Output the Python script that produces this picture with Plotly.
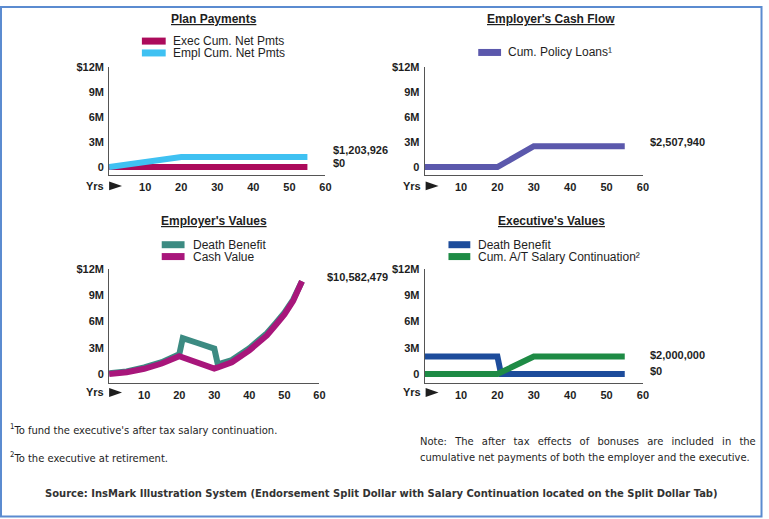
import plotly.graph_objects as go

W, H = 769, 519

# ---------------- data (values in $ millions) ----------------
plan_years_exec = [0, 55]
exec_cum_net_pmts = [0.0, 0.0]
plan_years_empl = [0, 20, 55]
empl_cum_net_pmts = [0.0, 1.203926, 1.203926]

loan_years = [0, 20, 30, 55]
cum_policy_loans = [0.0, 0.0, 2.50794, 2.50794]

emp_val_years = [0, 5, 10, 15, 20, 21, 25, 30, 31, 35, 40, 45, 47.5, 50, 52.5, 55]
emp_death_benefit = [0.1, 0.3, 0.75, 1.35, 2.25, 4.1, 3.57, 2.9, 1.1, 1.6, 2.95, 4.65, 5.8, 7.0, 8.5, 10.582479]
emp_cash_value = [0.0, 0.2, 0.6, 1.2, 2.04, 1.9, 1.33, 0.63, 0.75, 1.35, 2.7, 4.4, 5.6, 6.8, 8.35, 10.582479]

exec_db_years = [0, 20, 21, 55]
exec_death_benefit = [2.0, 2.0, 0.0, 0.0]
salary_years = [0, 20, 30, 55]
cum_at_salary_cont = [0.0, 0.0, 2.0, 2.0]

x_tick_vals = [10, 20, 30, 40, 50, 60]
x_tick_text = ["10", "20", "30", "40", "50", "60"]
y_tick_vals = [0, 3, 6, 9, 12]
y_tick_text = ["0", "3M", "6M", "9M", "$12M"]

panel_titles = ["Plan Payments", "Employer's Cash Flow", "Employer's Values", "Executive's Values"]
end_labels = [
    ["$1,203,926", "$0"],
    ["$2,507,940"],
    ["$10,582,479"],
    ["$2,000,000", "$0"],
]

# ---------------- colours ----------------
C_EXEC = "#AC0B5B"
C_EMPL = "#3FC1F2"
C_LOAN = "#5B58AC"
C_DB_EMP = "#3C8B82"
C_CV = "#A8167B"
C_DB_EXE = "#1D4C9B"
C_SAL = "#1E8B45"
TXT = "#1E1E1E"
FONT = "Liberation Sans, Arial, sans-serif"
COND = "DejaVu Sans Condensed, Liberation Sans, sans-serif"


def px(x):
    return x / W


def py(y):
    return 1 - y / H


fig = go.Figure()
LW = 6

fig.add_trace(go.Scatter(x=plan_years_exec, y=exec_cum_net_pmts, mode="lines",
                         line=dict(color=C_EXEC, width=LW), xaxis="x", yaxis="y"))
fig.add_trace(go.Scatter(x=plan_years_empl, y=empl_cum_net_pmts, mode="lines",
                         line=dict(color=C_EMPL, width=LW), xaxis="x", yaxis="y"))
fig.add_trace(go.Scatter(x=loan_years, y=cum_policy_loans, mode="lines",
                         line=dict(color=C_LOAN, width=LW), xaxis="x2", yaxis="y2"))
fig.add_trace(go.Scatter(x=emp_val_years, y=emp_death_benefit, mode="lines",
                         line=dict(color=C_DB_EMP, width=LW), xaxis="x3", yaxis="y3"))
fig.add_trace(go.Scatter(x=emp_val_years, y=emp_cash_value, mode="lines",
                         line=dict(color=C_CV, width=LW), xaxis="x3", yaxis="y3"))
fig.add_trace(go.Scatter(x=exec_db_years, y=exec_death_benefit, mode="lines",
                         line=dict(color=C_DB_EXE, width=LW), xaxis="x4", yaxis="y4"))
fig.add_trace(go.Scatter(x=salary_years, y=cum_at_salary_cont, mode="lines",
                         line=dict(color=C_SAL, width=LW), xaxis="x4", yaxis="y4"))

# panel geometry (pixels): x0, x60, ybottom, ytop, ymin
panels = [
    (110, 328, 171, 62, -0.95),
    (428, 648, 171, 62, -0.95),
    (110, 322, 381, 266, -0.98),
    (428, 648, 381, 266, -0.98),
]

axfont = dict(family=FONT, size=11, color=TXT, weight="bold")
layout_axes = {}
for i, (xa, xb, yb, yt, ymin) in enumerate(panels):
    sfx = "" if i == 0 else str(i + 1)
    layout_axes["xaxis" + sfx] = dict(
        domain=[px(xa), px(xb)], range=[0, 60], anchor="y" + sfx,
        tickvals=x_tick_vals, ticktext=x_tick_text, tickfont=axfont,
        showline=True, linecolor="#555", linewidth=1, ticks="",
        showgrid=False, zeroline=False, fixedrange=True, ticklabelstandoff=2)
    layout_axes["yaxis" + sfx] = dict(
        domain=[py(yb), py(yt)], range=[ymin, 12], anchor="x" + sfx,
        tickvals=y_tick_vals, ticktext=y_tick_text, tickfont=axfont,
        showline=True, linecolor="#555", linewidth=1, ticks="",
        showgrid=False, zeroline=False, fixedrange=True, ticklabelstandoff=2)

annotations = []
shapes = []


def text(x, y, s, size=12, bold=False, anchor="left", color=TXT, family=FONT):
    annotations.append(dict(x=px(x), y=py(y), xref="paper", yref="paper", text=s,
                            showarrow=False, xanchor=anchor, yanchor="middle",
                            font=dict(family=family, size=size, color=color,
                                      weight="bold" if bold else "normal")))


# titles
title_pos = [(216, 13), (555, 13), (216, 218), (556, 218)]
for (x, y), t in zip(title_pos, panel_titles):
    text(x, y, "<u>" + t + "</u>", size=12, bold=True, anchor="center")

# legends (drawn manually: line sample + label)
legends = [
    (143, 167, 172, [(35.5, C_EXEC, "Exec Cum. Net Pmts"), (47.5, C_EMPL, "Empl Cum. Net Pmts")]),
    (482, 505, 510, [(47, C_LOAN, "Cum. Policy Loans¹")]),
    (163, 186, 192, [(241.5, C_DB_EMP, "Death Benefit"), (253.5, C_CV, "Cash Value")]),
    (452, 474, 480, [(241.5, C_DB_EXE, "Death Benefit"), (253.5, C_SAL, "Cum. A/T Salary Continuation²")]),
]
for xs0, xs1, xt, rows in legends:
    for y, col, lab in rows:
        shapes.append(dict(type="line", xref="paper", yref="paper",
                           x0=px(xs0), x1=px(xs1), y0=py(y), y1=py(y),
                           line=dict(color=col, width=7)))
        text(xt, y, lab, size=12)

# end-value labels
end_pos = [[(334, 146), (334, 159)], [(653, 138)], [(328, 274)], [(653, 353), (653, 369)]]
for poss, labs in zip(end_pos, end_labels):
    for (x, y), lab in zip(poss, labs):
        text(x, y, lab, size=11, bold=True)

# "Yrs ►" markers
for ax_x, row_y in [(112, 182), (431, 182), (112, 391), (431, 391)]:
    text(ax_x - 5, row_y, "Yrs", size=11, bold=True, anchor="right")
    x0, x1 = ax_x - 2, ax_x + 11
    shapes.append(dict(type="path", xref="paper", yref="paper",
                       path=f"M {px(x0)},{py(row_y - 4.5)} L {px(x1)},{py(row_y)} L {px(x0)},{py(row_y + 4.5)} Z",
                       fillcolor=TXT, line=dict(width=0)))

# footnotes
note_line1 = "Note: The after tax effects of bonuses are included in the"
text(8, 428, "<sup>1</sup>To fund the executive's after tax salary continuation.", size=11.1, family=COND)
text(8, 457, "<sup>2</sup>To the executive at retirement.", size=11.1, family=COND)
text(421, 441, note_line1.replace(" ", " \u2002"), size=11.1, family=COND)
text(421, 457, "cumulative net payments of both the employer and the executive.", size=11.0, family=COND)
text(385, 493, "Source: InsMark Illustration System (Endorsement Split Dollar with Salary Continuation located on the Split Dollar Tab)",
     size=11.1, bold=True, anchor="center", color="#333", family=COND)

# outer border
shapes.append(dict(type="rect", xref="paper", yref="paper",
                   x0=px(1), x1=px(767.5), y0=py(516.5), y1=py(1),
                   line=dict(color="#5B8BD0", width=2), fillcolor="rgba(0,0,0,0)"))

fig.update_layout(
    width=W, height=H, margin=dict(l=0, r=0, t=0, b=0),
    paper_bgcolor="white", plot_bgcolor="white", showlegend=False,
    annotations=annotations, shapes=shapes, **layout_axes)

post = (
    "var d=document.getElementById('{plot_id}');"
    "d.style.position='fixed';d.style.left='0px';d.style.top='0px';"
    "document.documentElement.style.margin='0';document.documentElement.style.overflow='hidden';"
    "document.body.style.margin='0';document.body.style.overflow='hidden';"
)
fig.write_html("out.html", config={"displayModeBar": False}, post_script=post)
